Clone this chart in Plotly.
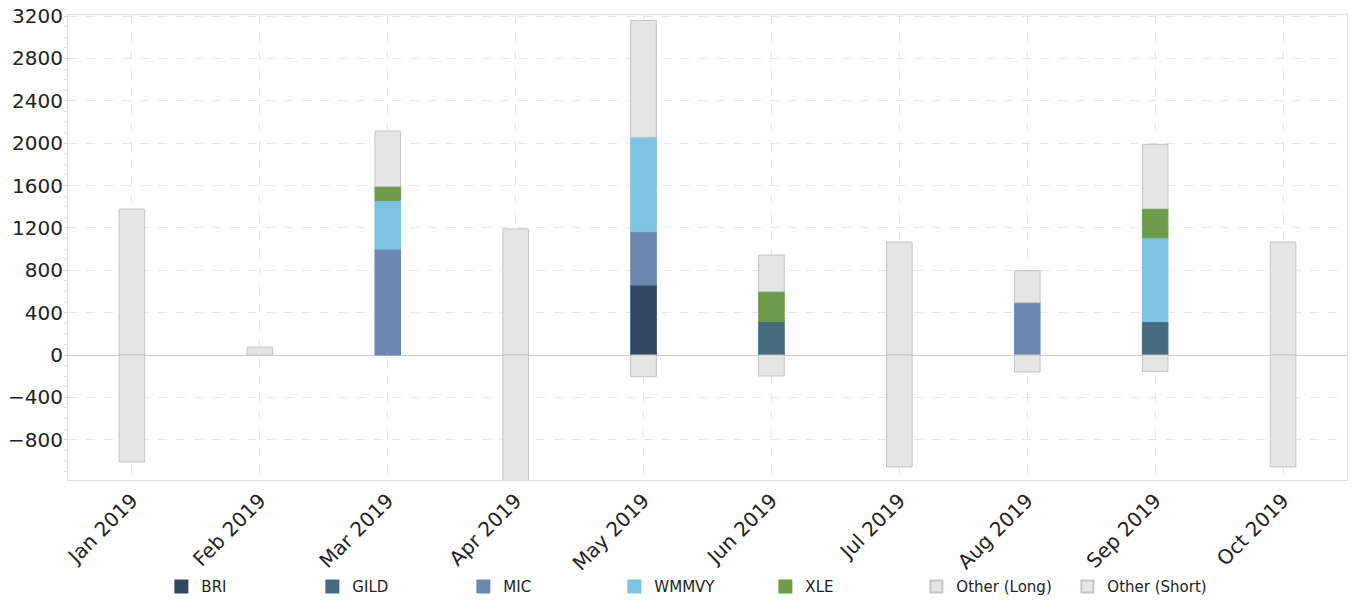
import plotly.graph_objects as go

months = ["Jan 2019", "Feb 2019", "Mar 2019", "Apr 2019", "May 2019",
          "Jun 2019", "Jul 2019", "Aug 2019", "Sep 2019", "Oct 2019"]

bri = [None, None, None, None, 660, None, None, None, None, None]
gild = [None, None, None, None, None, 315, None, None, 315, None]
mic = [None, None, 1000, None, 505, None, None, 494, None, None]
wmmvy = [None, None, 460, None, 890, None, None, None, 792, None]
xle = [None, None, 130, None, None, 283, None, None, 274, None]
other_long = [1378, 75, 525, 1190, 1105, 346, 1067, 302, 608, 1067]
other_short = [-1010, None, None, -1260, -205, -198, -1057, -160, -155, -1057]

series = [
    ("BRI", bri, "#324763"),
    ("GILD", gild, "#456b80"),
    ("MIC", mic, "#6c88b0"),
    ("WMMVY", wmmvy, "#7ec2e2"),
    ("XLE", xle, "#6f9c4a"),
    ("Other (Long)", other_long, "#e5e5e5"),
    ("Other (Short)", other_short, "#e5e5e5"),
]

fig = go.Figure()
for name, vals, color in series:
    border = "#c4c4c4" if name.startswith("Other") else color
    fig.add_trace(go.Bar(
        x=months, y=vals, name=name, width=0.2,
        marker=dict(color=color, line=dict(color=border, width=1)),
    ))

fig.update_layout(
    width=1352, height=600,
    barmode="relative",
    plot_bgcolor="white", paper_bgcolor="white",
    margin=dict(l=68, r=5, t=15, b=120),
    font=dict(family="DejaVu Sans", color="#222222"),
    showlegend=True,
    legend=dict(orientation="h", x=0.073, xanchor="left",
                yref="container", y=0.022, yanchor="middle",
                font=dict(size=15, family="DejaVu Sans"),
                entrywidth=106, entrywidthmode="pixels",
                itemsizing="constant"),
)
fig.update_xaxes(
    type="category", range=[-0.5, 9.5], automargin=False,
    tickangle=-45, tickfont=dict(size=20),
    showgrid=True, gridcolor="#e8e8e8", griddash="dash",
    showline=True, linecolor="#e0e0e0", mirror=True,
    ticks="",
)
fig.update_yaxes(
    range=[-1180, 3210], automargin=False,
    tickvals=[-800, -400, 0, 400, 800, 1200, 1600, 2000, 2400, 2800, 3200],
    tickfont=dict(size=20), ticklabeloverflow="allow",
    showgrid=True, gridcolor="#e8e8e8", griddash="dash",
    zeroline=True, zerolinecolor="#cccccc", zerolinewidth=1,
    showline=True, linecolor="#e0e0e0", mirror=True,
    ticks="outside", ticklen=0,
    minor=dict(dtick=100, ticks="outside", ticklen=3, tickcolor="#dddddd", showgrid=False),
)

fig.write_html("out.html", config={"displayModeBar": False},
               post_script="document.body.style.margin='0';")
